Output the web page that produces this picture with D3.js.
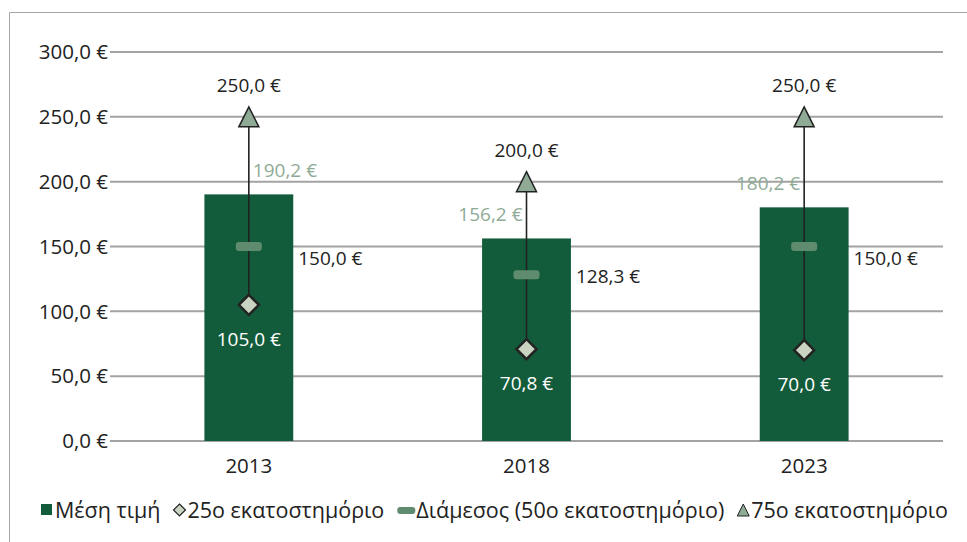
<!DOCTYPE html>
<html lang="el">
<head>
<meta charset="UTF-8">
<title>Τιμές ανά έτος</title>
<style>
    body { margin: 0; background: #fff; }
    svg { display: block; font-family: "Open Sans", "Noto Sans", sans-serif; }
</style>
</head>
<body>
<svg id="chart" width="967" height="542"></svg>
<script src="https://cdn.jsdelivr.net/npm/d3@7"></script>
<script>
// data
const years = ["2013", "2018", "2023"];
const meanPrice = [190.2, 156.2, 180.2];
const p25 = [105.0, 70.8, 70.0];
const p50 = [150.0, 128.3, 150.0];
const p75 = [250.0, 200.0, 250.0];
const yTicks = [0, 50, 100, 150, 200, 250, 300];
const legendNames = ["Μέση τιμή", "25ο εκατοστημόριο", "Διάμεσος (50ο εκατοστημόριο)", "75ο εκατοστημόριο"];

const svg = d3.select("#chart");
const dark = "#135c3b", tri = "#8fab96", dia = "#c8d3c2", med = "#5f8c6e";
const fmt = v => d3.format(".1f")(v).replace(".", ",") + " €";

const x = d3.scaleBand().domain(years).range([110, 943]).paddingInner(0.68).paddingOuter(0.34);
const y = d3.scaleLinear().domain([0, 300]).range([441, 52]);

// frame (top + left edges visible)
svg.append("path").attr("d", "M9.5,542 V12.5 H967").attr("fill", "none").attr("stroke", "#a6a6a6");

// gridlines
svg.append("g").selectAll("line").data(yTicks).join("line")
    .attr("x1", 110).attr("x2", 943)
    .attr("y1", d => y(d)).attr("y2", d => y(d))
    .attr("stroke", "#a3a3a3").attr("stroke-width", 2);

// y axis labels
svg.append("g").selectAll("text").data(yTicks).join("text")
    .attr("x", 108).attr("y", d => y(d)).attr("dy", "0.35em")
    .attr("text-anchor", "end").attr("font-size", 20.5).attr("fill", "#222")
    .text(d => fmt(d));

// x axis labels
svg.append("g").selectAll("text").data(years).join("text")
    .attr("x", d => x(d) + x.bandwidth() / 2).attr("y", 466).attr("dy", "0.35em")
    .attr("text-anchor", "middle").attr("font-size", 20.5).attr("fill", "#222")
    .text(d => d);

// bars
svg.append("g").selectAll("rect").data(years).join("rect")
    .attr("x", d => x(d)).attr("width", x.bandwidth())
    .attr("y", (d, i) => y(meanPrice[i])).attr("height", (d, i) => y(0) - y(meanPrice[i]))
    .attr("fill", dark);

const cx = d => x(d) + x.bandwidth() / 2;

// whiskers 25 -> 75
svg.append("g").selectAll("line").data(years).join("line")
    .attr("x1", cx).attr("x2", cx)
    .attr("y1", (d, i) => y(p25[i])).attr("y2", (d, i) => y(p75[i]))
    .attr("stroke", "#222").attr("stroke-width", 1.6);

// median markers
svg.append("g").selectAll("rect").data(years).join("rect")
    .attr("x", d => cx(d) - 13).attr("width", 26)
    .attr("y", (d, i) => y(p50[i]) - 4.5).attr("height", 9)
    .attr("rx", 3).attr("fill", med);

// 75th triangles
svg.append("g").selectAll("path").data(years).join("path")
    .attr("d", (d, i) => {
        const px = cx(d), py = y(p75[i]);
        return `M${px},${py - 10} L${px + 10},${py + 10} L${px - 10},${py + 10} Z`;
    })
    .attr("fill", tri).attr("stroke", "#222").attr("stroke-width", 1.5);

// 25th diamonds
svg.append("g").selectAll("path").data(years).join("path")
    .attr("d", (d, i) => {
        const px = cx(d), py = y(p25[i]);
        return `M${px},${py - 10} L${px + 10},${py} L${px},${py + 10} L${px - 10},${py} Z`;
    })
    .attr("fill", dia).attr("stroke", "#222").attr("stroke-width", 2.5);

// labels
const lab = svg.append("g").attr("font-size", 19);
// 75th above triangle
lab.selectAll(".l75").data(years).join("text")
    .attr("x", cx).attr("y", (d, i) => y(p75[i]) - 31).attr("dy", "0.35em")
    .attr("text-anchor", "middle").attr("fill", "#222")
    .text((d, i) => fmt(p75[i]));
// mean label (left or right of whisker, above bar)
const meanRight = [true, false, false];
lab.selectAll(".lm").data(years).join("text")
    .attr("x", (d, i) => meanRight[i] ? cx(d) + 4 : cx(d) - 4)
    .attr("y", (d, i) => y(meanPrice[i]) - 24).attr("dy", "0.35em")
    .attr("text-anchor", (d, i) => meanRight[i] ? "start" : "end").attr("fill", tri)
    .text((d, i) => fmt(meanPrice[i]));
// median label right of bar
const medDy = [12, 2, 12];
lab.selectAll(".l50").data(years).join("text")
    .attr("x", d => x(d) + x.bandwidth() + 5).attr("y", (d, i) => y(p50[i]) + medDy[i]).attr("dy", "0.35em")
    .attr("fill", "#222")
    .text((d, i) => fmt(p50[i]));
// 25th below diamond (white)
lab.selectAll(".l25").data(years).join("text")
    .attr("x", cx).attr("y", (d, i) => y(p25[i]) + 34).attr("dy", "0.35em")
    .attr("text-anchor", "middle").attr("fill", "#fff")
    .text((d, i) => fmt(p25[i]));

// legend
const leg = svg.append("g").attr("font-size", 21.5).attr("fill", "#222");
const ly = 510;
let lx = 41;
legendNames.forEach((name, i) => {
    const g = leg.append("g");
    if (i === 0) {
        g.append("rect").attr("x", lx).attr("y", ly - 6).attr("width", 11).attr("height", 11).attr("fill", dark);
        lx += 14;
    } else if (i === 1) {
        g.append("path").attr("d", `M${lx + 6},${ly - 6} L${lx + 12},${ly} L${lx + 6},${ly + 6} L${lx},${ly} Z`)
            .attr("fill", dia).attr("stroke", "#222").attr("stroke-width", 1.2);
        lx += 14;
    } else if (i === 2) {
        g.append("rect").attr("x", lx).attr("y", ly - 3).attr("width", 18).attr("height", 7).attr("rx", 3).attr("fill", med);
        lx += 19;
    } else {
        g.append("path").attr("d", `M${lx + 6},${ly - 6} L${lx + 12},${ly + 6} L${lx},${ly + 6} Z`)
            .attr("fill", tri).attr("stroke", "#222").attr("stroke-width", 1);
        lx += 14;
    }
    const t = g.append("text").attr("x", lx).attr("y", ly).attr("dy", "0.35em").text(name);
    lx += t.node().getComputedTextLength() + 13;
});
</script>
</body>
</html>
